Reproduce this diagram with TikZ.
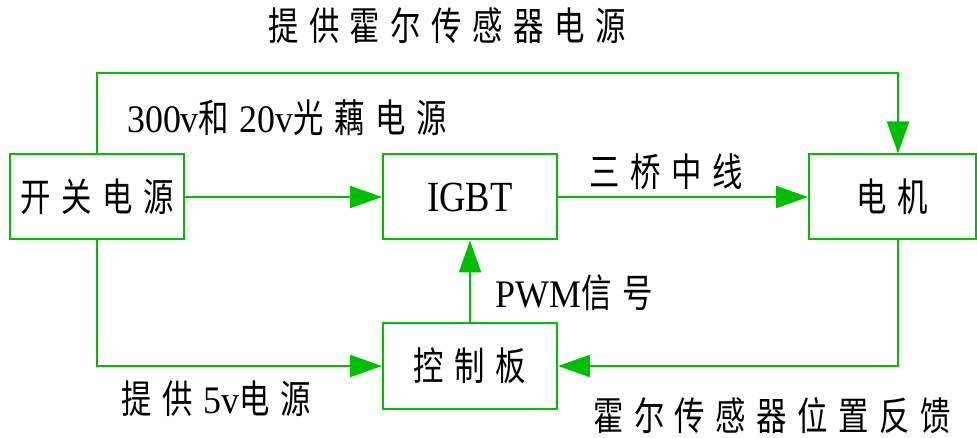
\documentclass[tikz,border=0pt]{standalone}
\usepackage{fontspec}
\setmainfont{Liberation Serif}[FakeStretch=0.92]
\newfontfamily\cjk{Noto Sans CJK SC}[FakeStretch=0.78]
\usetikzlibrary{arrows.meta,calc}
\definecolor{lgreen}{RGB}{0,190,0}
\newcommand\zh[1]{{\cjk #1}}
\newcommand\gp{\hspace{10.5pt}}
\begin{document}
\begin{tikzpicture}[x=1pt,y=-1pt,
  box/.style={draw=lgreen, line width=2pt, minimum width=174pt, minimum height=85pt, inner sep=0pt},
  conn/.style={draw=lgreen, line width=2.2pt, -{Triangle[length=32pt,width=22pt]}},
  lbl/.style={inner sep=0pt},
  every node/.append style={font=\fontsize{39}{41}\selectfont}]
\useasboundingbox (0,0) rectangle (977,438);
\node[box] (sw) at (97,197) {\zh{开\gp 关\gp 电\gp 源}};
\node[box] (igbt) at (470,197) {\fontsize{43}{45}\selectfont\addfontfeature{FakeStretch=0.85}IGBT};
\node[box, minimum width=167pt] (mot) at (892.5,197) {\zh{电\gp 机}};
\node[box, minimum height=86pt] (ctl) at (470,366) {\zh{控\gp 制\gp 板}};
\coordinate (topline) at (0,73);
\draw[conn] (sw.north) -- (sw.north |- topline) -| ($(mot.north)+(5.5,0)$);
\draw[conn] (sw.east) -- (igbt.west);
\draw[conn] (igbt.east) -- (mot.west);
\draw[conn] (sw.south) |- (ctl.west);
\draw[conn] (ctl.north) -- (igbt.south);
\draw[conn] ($(mot.south)+(5.5,0)$) |- (ctl.east);
\node[lbl] (t1) at (447,26) {\zh{提\gp 供\gp 霍\gp 尔\gp 传\gp 感\gp 器\gp 电\gp 源}};
\node[lbl] (t2) at (287,118) {300v\zh{和}\gp 20v\zh{光}\gp\zh{藕}\gp\zh{电}\gp\zh{源}};
\node[lbl] (t3) at (666,172) {\zh{三\gp 桥\gp 中\gp 线}};
\node[lbl] (t4) at (574,293) {PWM\zh{信}\gp\zh{号}};
\node[lbl] (t5) at (216,399) {\zh{提\gp 供}\gp 5v\zh{电}\gp\zh{源}};
\node[lbl] (t6) at (772,416) {\zh{霍\gp 尔\gp 传\gp 感\gp 器\gp 位\gp 置\gp 反\gp 馈}};
\end{tikzpicture}
\end{document}
